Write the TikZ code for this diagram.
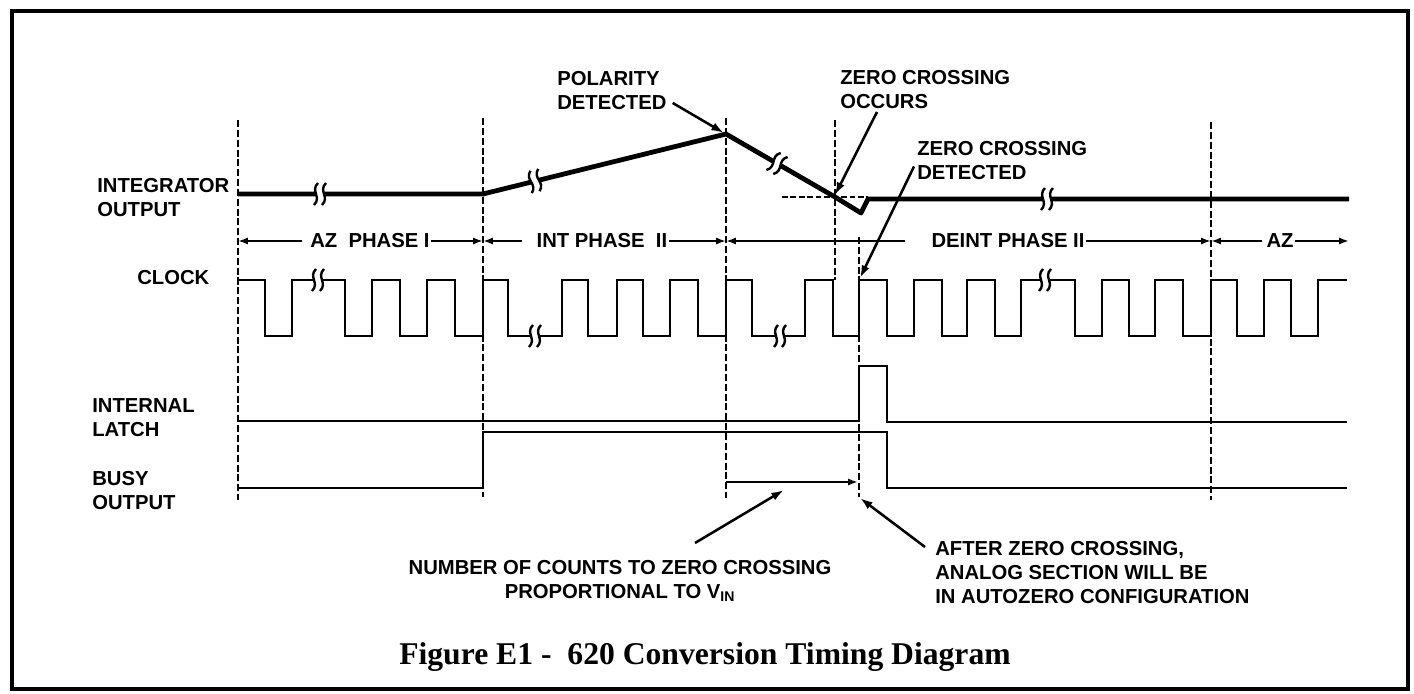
\documentclass[tikz,border=0pt]{standalone}
\usepackage{fontspec}
\setmainfont{Liberation Serif}
\setsansfont{Liberation Sans}
\usetikzlibrary{arrows.meta}

\tikzset{
  lbl/.style={font=\sffamily\bfseries\fontsize{14.4}{17.1}\selectfont, inner sep=0pt},
  ttl/.style={font=\bfseries\fontsize{22.5}{27}\selectfont, inner sep=0pt},
  frame/.style={line width=2.4pt},
  sig/.style={line width=1.6pt, line join=miter},
  integ/.style={line width=3.4pt, line join=round},
  phline/.style={line width=1.3pt, dash pattern=on 5pt off 2pt},
  zeroline/.style={line width=1.3pt, dash pattern=on 4pt off 2pt},
  ph/.style={line width=1.5pt, -{Latex[length=7pt,width=5pt]}},
  ann/.style={line width=1.8pt, -{Latex[length=9pt,width=6pt]}},
  brkl/.style={line width=1.7pt},
}

% break mark on a trace: x, y, angle of the trace
\newcommand{\brk}[3]{%
  \begin{scope}[shift={(#1,#2)}, rotate=#3]
    \fill[white] (-4,-7) rectangle (4,7);
    \draw[brkl] (-2,-11) .. controls (-10,-3) and (2,3) .. (-6,11);
    \draw[brkl] (6,-11) .. controls (-2,-3) and (10,3) .. (2,11);
  \end{scope}}

\begin{document}
\begin{tikzpicture}[x=0.025cm, y=-0.025cm]
    \useasboundingbox (0,0) rectangle (1414,694);
    \draw[frame] (12,11) rectangle (1408,689);

    % phase boundaries
    \draw[phline] (238,120) -- (238,500);
    \draw[phline] (483,118) -- (483,497);
    \draw[phline] (726,118) -- (726,498);
    \draw[phline] (835,120) -- (835,280);
    \draw[phline] (859,237) -- (859,497);
    \draw[phline] (1211,122) -- (1211,500);

    % signal names
    \node[lbl, anchor=north west, align=left] (intout) at (97,178) {INTEGRATOR\\OUTPUT};
    \node[lbl, anchor=west] (clk) at (137,278) {CLOCK};
    \node[lbl, anchor=north west, align=left] (latch) at (92,398) {INTERNAL\\LATCH};
    \node[lbl, anchor=north west, align=left] (busy) at (92,471) {BUSY\\OUTPUT};

    % integrator output
    \draw[zeroline] (782,197) -- (868,197);
    \draw[integ] (238,194) -- (483,194) -- (726,134) -- (835,197) -- (861,213) -- (868,199) -- (1349,199);
    \brk{320}{194}{0}
    \brk{535}{181}{14}
    \brk{777}{163.5}{-30}
    \brk{1047}{199}{0}

    % phases
    \coordinate (b1) at (238,241);
    \coordinate (b2) at (483,241);
    \coordinate (b3) at (726,241);
    \coordinate (b4) at (1211,241);
    \coordinate (b5) at (1349,241);
    \node[lbl] (azph) at (370,241) {AZ\ \ PHASE I};
    \node[lbl] (intph) at (602,241) {INT PHASE\ \ II};
    \node[lbl] (deph) at (1008,241) {DEINT PHASE II};
    \node[lbl] (azph2) at (1280,241) {AZ};
    \draw[ph, shorten <=6pt] (azph.west) -- (b1);
    \draw[ph, shorten <=1pt] (azph.east) -- (b2);
    \draw[ph, shorten <=10pt] (intph.west) -- (b2);
    \draw[ph, shorten <=1pt] (intph.east) -- (b3);
    \draw[ph, shorten <=19pt] (deph.west) -- (b3);
    \draw[ph, shorten <=1pt] (deph.east) -- (b4);
    \draw[ph, shorten <=3pt] (azph2.west) -- (b4);
    \draw[ph, shorten <=1pt] (azph2.east) -- (b5);

    % clock
    \draw[sig] (238,280) foreach \f/\r in {265/292,345/372,400/427,455/483,508/562,588/617,643/670,698/726,752/805,833/859,887/914,942/967,995/1021,1075/1102,1129/1155,1183/1211,1237/1264,1291/1318}{ -- (\f,280) -- (\f,336) -- (\r,336) -- (\r,280) } -- (1347,280);
    \brk{318}{280}{0}
    \brk{535}{336}{0}
    \brk{780}{336}{0}
    \brk{1045}{280}{0}

    % latch and busy
    \draw[sig] (238,421) -- (859,421) -- (859,366) -- (887,366) -- (887,422) -- (1347,422);
    \draw[sig] (238,488) -- (483,488) -- (483,432) -- (887,432) -- (887,488) -- (1347,488);
    \coordinate (cntA) at (726,482);
    \coordinate (cntB) at (858,482);
    \draw[ph] (cntA) -- (cntB);

    % notes
    \node[lbl, anchor=north west, align=left] (pol) at (557,71) {POLARITY\\DETECTED};
    \coordinate (peak) at (724,133);
    \draw[ann] ([shift={(6,-7)}]pol.south east) -- (peak);

    \node[lbl, anchor=north west, align=left] (zco) at (840,70) {ZERO CROSSING\\OCCURS};
    \coordinate (zc) at (835,195);
    \draw[ann] ([shift={(37,3)}]zco.south west) -- (zc);

    \node[lbl, anchor=north west, align=left] (zcd) at (917,141) {ZERO CROSSING\\DETECTED};
    \coordinate (zcclk) at (860,278);
    \draw[ann] ([shift={(-3,6)}]zcd.west) -- (zcclk);

    \node[lbl, anchor=north, align=center] (cnt) at (620,560) {NUMBER OF COUNTS TO ZERO CROSSING\\PROPORTIONAL TO V\textsubscript{IN}};
    \coordinate (cntmid) at (784,490);
    \draw[ann] ([shift={(75,-17)}]cnt.north) -- (cntmid);

    \node[lbl, anchor=north west, align=left] (aft) at (935,541) {AFTER ZERO CROSSING,\\ANALOG SECTION WILL BE\\IN AUTOZERO CONFIGURATION};
    \coordinate (aztime) at (860,498);
    \draw[ann] ([shift={(-10,6)}]aft.north west) -- (aztime);

    \node[ttl, anchor=base] (title) at (705,664) {Figure E1 -\ \ 620 Conversion Timing Diagram};
\end{tikzpicture}
\end{document}
